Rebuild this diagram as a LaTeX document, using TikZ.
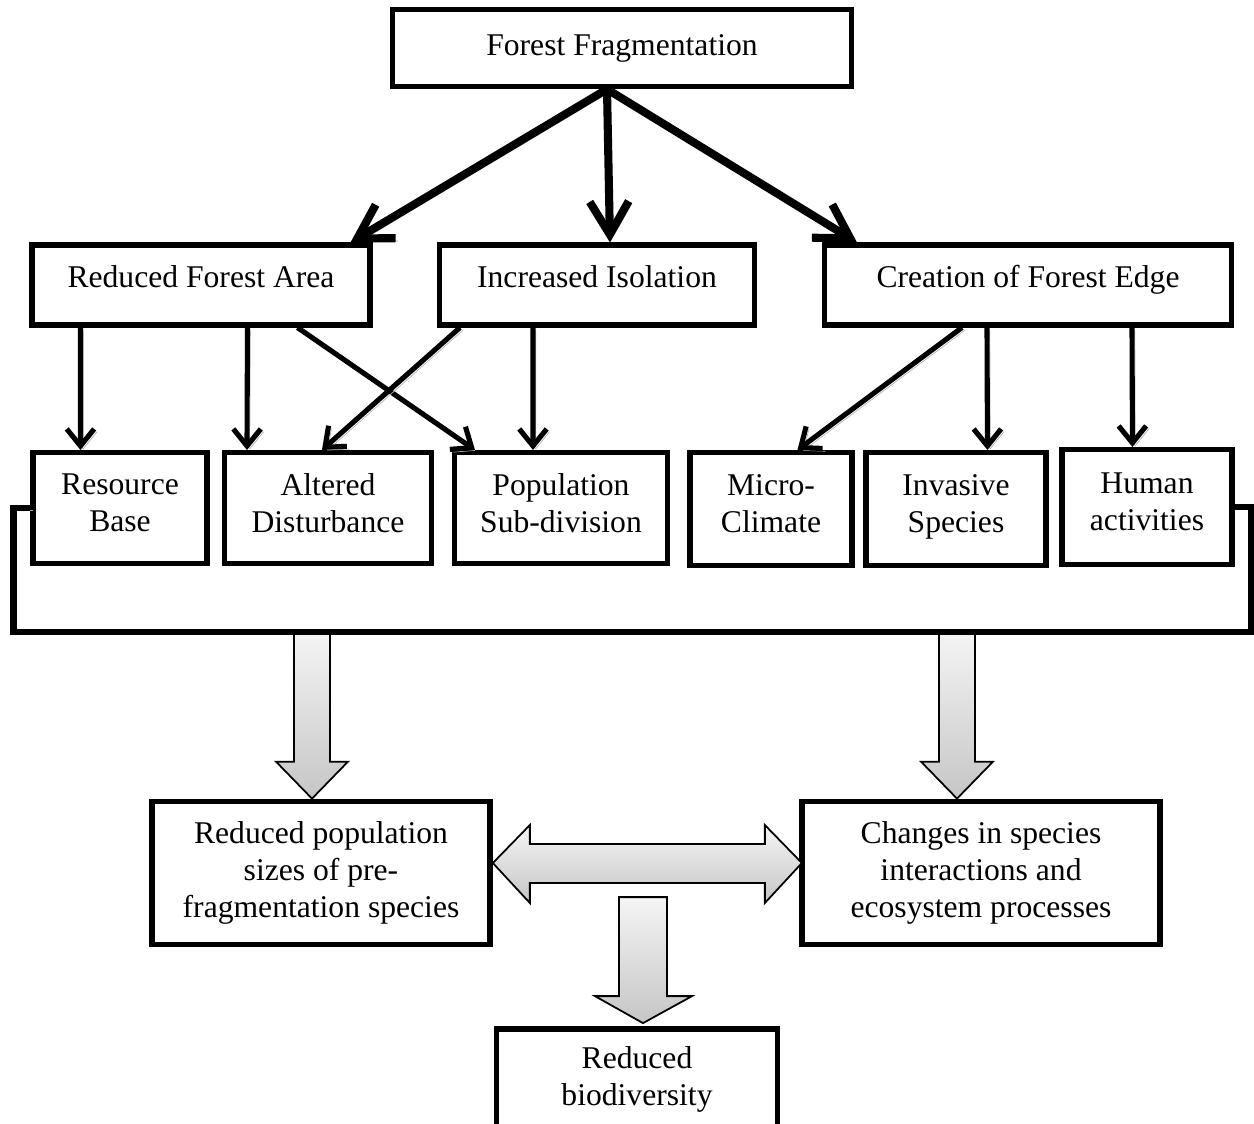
\documentclass[tikz,border=0pt]{standalone}
\usepackage{fontspec}
\setmainfont{Liberation Serif}
\usetikzlibrary{arrows.meta,calc,shadows}

\begin{document}
\begin{tikzpicture}[x=0.02cm, y=-0.02cm,
	every node/.style={font=\fontsize{18}{21}\selectfont, align=center},
	box/.style={shape=rectangle, draw, fill=white, line width=2.9pt, inner sep=0pt,
		drop shadow={shadow xshift=1pt, shadow yshift=-1pt, fill=gray!55, opacity=1}},
	shadowline/.style={preaction={draw=gray!60, transform canvas={shift={(1.6pt,-1.6pt)}}}},
	arr/.style={-{Straight Barb[length=0.34cm,width=0.55cm]}, line width=2.9pt, shadowline},
	bigarr/.style={-{Straight Barb[length=0.66cm,width=0.78cm]}, line width=4.6pt, shadowline},
	bracket/.style={line width=3.7pt, shadowline},
	blockarrow/.style={draw, line width=1pt, top color=gray!8, bottom color=gray!45}]
	\useasboundingbox (0,0) rectangle (1254,1123);

	% boxes
	\node[box, line width=3.1pt, minimum width=9.18cm, minimum height=1.54cm] (ff) at (622,48) {Forest Fragmentation};

	\node[box, minimum width=6.76cm, minimum height=1.6cm, text depth=10pt] (rfa) at (201,285) {Reduced Forest Area};
	\node[box, minimum width=6.3cm, minimum height=1.6cm, text depth=10pt] (iso) at (597,285) {Increased Isolation};
	\node[box, minimum width=8.14cm, minimum height=1.6cm, text depth=10pt] (edge) at (1028,285) {Creation of Forest Edge};

	\node[box, minimum width=3.48cm, minimum height=2.22cm, text depth=6pt] (res) at (120,508) {Resource\\Base};
	\node[box, minimum width=4.14cm, minimum height=2.22cm, text depth=6pt] (alt) at (328,508) {Altered\\Disturbance};
	\node[box, minimum width=4.26cm, minimum height=2.22cm, text depth=6pt] (pop) at (561,508) {Population\\Sub-division};
	\node[box, minimum width=3.24cm, minimum height=2.26cm, text depth=6pt] (mic) at (771,509) {Micro-\\Climate};
	\node[box, minimum width=3.6cm, minimum height=2.26cm, text depth=6pt] (inv) at (956,509) {Invasive\\Species};
	\node[box, minimum width=3.4cm, minimum height=2.3cm, text depth=6pt] (hum) at (1147,507) {Human\\activities};

	\node[box, line width=3.3pt, minimum width=6.76cm, minimum height=2.86cm] (redpop) at (321,873) {Reduced population\\sizes of pre-\\fragmentation species};
	\node[box, line width=3.3pt, minimum width=7.16cm, minimum height=2.86cm] (chg) at (981,873) {Changes in species\\interactions and\\ecosystem processes};
	\node[box, line width=3.3pt, minimum width=5.62cm, minimum height=2cm] (bio) at (637,1079) {Reduced\\biodiversity};

	% first level
	\coordinate (src) at ($(ff.south)+(-15,0)$);
	\draw[bigarr] (src) -- ($(rfa.north east)+(-22,0)$);
	\draw[bigarr] (src) -- ($(iso.north)+(13,0)$);
	\draw[bigarr] (src) -- ($(edge.north west)+(35,0)$);

	% second level
	\draw[arr] ($(rfa.south west)+(51,0)$) -- ($(res.north west)+(50,0)$);
	\draw[arr] ($(rfa.south west)+(218,0)$) -- ($(alt.north west)+(25,0)$);
	\draw[arr] ($(rfa.south west)+(268,0)$) -- ($(pop.north west)+(23,0)$);
	\draw[arr] ($(iso.south west)+(23,0)$) -- ($(alt.north west)+(100,0)$);
	\draw[arr] ($(iso.south west)+(96,0)$) -- ($(pop.north west)+(81,0)$);
	\draw[arr] ($(edge.south west)+(140,0)$) -- ($(mic.north west)+(110,0)$);
	\draw[arr] ($(edge.south west)+(165,0)$) -- ($(inv.north west)+(124,0)$);
	\draw[arr] ($(edge.south west)+(310,0)$) -- ($(hum.north west)+(73,0)$);

	% block arrows
	\path[blockarrow] ($(redpop.north)+(-9,0)$) -- ++(36,-37) -- ++(-18,0) -- ++(0,-130) -- ++(-36,0) -- ++(0,130) -- ++(-18,0) -- cycle;
	\path[blockarrow] ($(chg.north)+(-24,0)$) -- ++(36,-37) -- ++(-18,0) -- ++(0,-130) -- ++(-36,0) -- ++(0,130) -- ++(-18,0) -- cycle;
	\path[blockarrow] ($(bio.north)+(6,-3)$) -- ++(49,-27) -- ++(-25,0) -- ++(0,-99) -- ++(-48,0) -- ++(0,99) -- ++(-24,0) -- cycle;
	\path[blockarrow] ($(redpop.east)+(0,-10)$) -- ++(37,-38) -- ++(0,19) -- ++(235,0) -- ++(0,-19) -- ++(37,38) -- ++(-37,40) -- ++(0,-20) -- ++(-235,0) -- ++(0,20) -- cycle;

	% bracket
	\draw[bracket] (res.west) -- ++(-17,0) |- ($(hum.east)+(17,125)$) -- ($(hum.east)+(17,0)$) -- (hum.east);
\end{tikzpicture}
\end{document}
